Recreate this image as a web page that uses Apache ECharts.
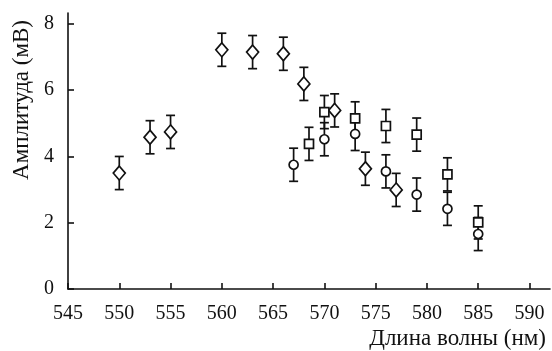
<!DOCTYPE html>
<html>
<head>
<meta charset="utf-8">
<script src="https://cdn.jsdelivr.net/npm/echarts@6/dist/echarts.min.js"></script>
<style>
  html, body { margin: 0; padding: 0; background: #fff; }
  #container { width: 552px; height: 351px; }
</style>
</head>
<body>
<div id="container"></div>
<script>
// wavelength (nm), amplitude (mV), error (mV)
const diamondX = [550, 553, 555, 560, 563, 566, 568, 571, 574, 577]
const diamondY = [3.5, 4.58, 4.74, 7.22, 7.15, 7.1, 6.19, 5.39, 3.63, 2.99]
const diamondErr = [0.5, 0.5, 0.5, 0.5, 0.5, 0.5, 0.5, 0.5, 0.5, 0.5]

const circleX = [567, 570, 573, 576, 579, 582, 585]
const circleY = [3.75, 4.52, 4.68, 3.55, 2.85, 2.42, 1.66]
const circleErr = [0.5, 0.5, 0.5, 0.5, 0.5, 0.5, 0.5]

const squareX = [568.5, 570, 573, 576, 579, 582, 585]
const squareY = [4.38, 5.34, 5.15, 4.92, 4.66, 3.46, 2.01]
const squareErr = [0.5, 0.5, 0.5, 0.5, 0.5, 0.5, 0.5]

const xTicks = [545, 550, 555, 560, 565, 570, 575, 580, 585, 590]
const yTicks = [0, 2, 4, 6, 8]

const font = '"Liberation Serif", "Times New Roman", serif'
const ink = '#111'

const myChart = echarts.init(document.getElementById('container'))

function toPoints(xs, ys, errs) {
    return xs.map((x, i) => [x, ys[i], errs[i]])
}

function errorBars(name, points) {
    return {
        name: name + ' err',
        type: 'custom',
        z: 1,
        silent: true,
        renderItem: (params, api) => {
            const x = api.value(0)
            const y = api.value(1)
            const e = api.value(2)
            const top = api.coord([x, y + e])
            const bot = api.coord([x, y - e])
            const cap = 4.5
            const style = { stroke: ink, lineWidth: 1.7 }
            return {
                type: 'group',
                children: [
                    { type: 'line', shape: { x1: top[0], y1: top[1], x2: bot[0], y2: bot[1] }, style },
                    { type: 'line', shape: { x1: top[0] - cap, y1: top[1], x2: top[0] + cap, y2: top[1] }, style },
                    { type: 'line', shape: { x1: bot[0] - cap, y1: bot[1], x2: bot[0] + cap, y2: bot[1] }, style }
                ]
            }
        },
        data: points
    }
}

function markers(name, points, symbol, size) {
    return {
        name: name,
        type: 'scatter',
        z: 3,
        symbol: symbol,
        symbolSize: size,
        itemStyle: { color: '#fff', borderColor: ink, borderWidth: 1.7, opacity: 1 },
        data: points
    }
}

const diamonds = toPoints(diamondX, diamondY, diamondErr)
const circles = toPoints(circleX, circleY, circleErr)
const squares = toPoints(squareX, squareY, squareErr)

const option = {
    backgroundColor: '#fff',
    animation: false,
    grid: { left: 68, right: 2, top: 13, bottom: 62 },
    xAxis: {
        type: 'value',
        min: 545,
        max: 592,
        axisLine: { lineStyle: { color: ink, width: 1.6 } },
        axisTick: { inside: true, length: 6, customValues: xTicks, lineStyle: { color: ink, width: 1.6 } },
        axisLabel: { customValues: xTicks, color: ink, fontFamily: font, fontSize: 20, margin: 15 },
        splitLine: { show: false },
        name: 'Длина волны (нм)',
        nameLocation: 'end',
        nameGap: 0,
        nameTextStyle: {
            color: ink, fontFamily: font, fontSize: 23,
            align: 'right', verticalAlign: 'top', padding: [38, 4, 0, 0]
        }
    },
    yAxis: {
        type: 'value',
        min: 0,
        max: 8.33,
        axisLine: { show: true, lineStyle: { color: ink, width: 1.6 } },
        axisTick: { show: true, inside: true, length: 6, customValues: yTicks, lineStyle: { color: ink, width: 1.6 } },
        axisLabel: { customValues: yTicks, color: ink, fontFamily: font, fontSize: 20, margin: 14 },
        splitLine: { show: false }
    },
    graphic: [
        {
            type: 'text',
            left: 10,
            top: 20,
            rotation: Math.PI / 2,
            style: { text: 'Амплитуда (мВ)', fill: ink, font: '23px "Liberation Serif", serif' }
        }
    ],
    series: [
        errorBars('diamond', diamonds),
        errorBars('circle', circles),
        errorBars('square', squares),
        markers('diamond', diamonds, 'diamond', [12, 14]),
        markers('circle', circles, 'circle', 9),
        markers('square', squares, 'rect', 9)
    ]
}

myChart.setOption(option)
</script>
</body>
</html>
